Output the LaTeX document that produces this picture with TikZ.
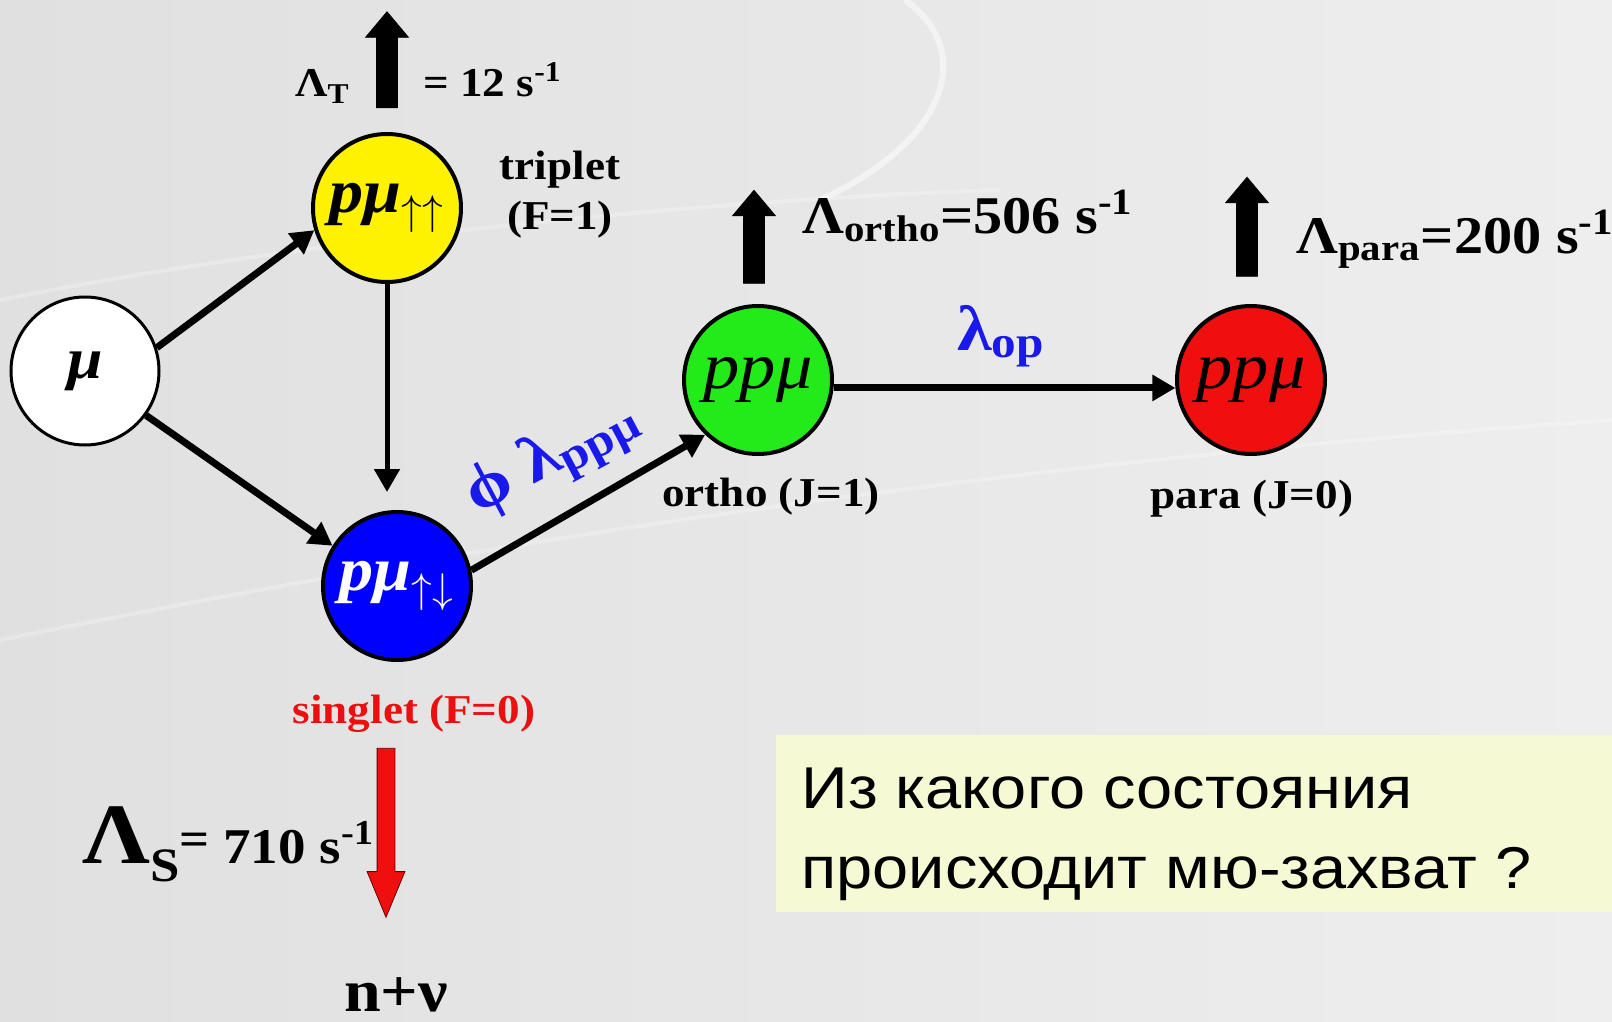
\documentclass[tikz,border=0pt]{standalone}
\usepackage{fontspec}
\setmainfont{Liberation Serif}[FakeStretch=1.1]
\newfontfamily\rusfont{Liberation Sans}[FakeStretch=1.1]
\usetikzlibrary{arrows.meta,shapes.arrows}

\definecolor{bgleft}{RGB}{224,224,224}
\definecolor{bgright}{RGB}{238,238,238}
\definecolor{qbox}{RGB}{245,250,212}
\definecolor{lblue}{RGB}{25,25,235}
\definecolor{lred}{RGB}{235,15,15}
\definecolor{ogreen}{RGB}{35,235,25}
\definecolor{pred}{RGB}{240,15,15}

\tikzset{
	state/.style={circle, draw, line width=2pt, minimum size=74pt, inner sep=0pt},
	trans/.style={line width=3.5pt, -{Triangle[length=11.5pt,width=12.5pt]}},
	decay/.style={single arrow, draw, fill=black, inner sep=5pt, minimum height=48pt,
		single arrow head extend=5.5pt, single arrow tip angle=80, single arrow head indent=0pt},
	lbl/.style={inner sep=0pt, font=\fontsize{20.5}{25}\selectfont\bfseries},
	big/.style={inner sep=0pt, font=\fontsize{26.5}{32}\selectfont\bfseries},
	ques/.style={anchor=base west, inner sep=0pt, font=\rusfont\fontsize{29.5}{40}\selectfont}
}

\begin{document}
\begin{tikzpicture}[x=0.5pt,y=-0.5pt]
		\useasboundingbox (0,0) rectangle (1612,1022);
		\shade[left color=bgleft, right color=bgright] (0,0) rectangle (1612,1022);
		\draw[white, opacity=0.5, line width=3pt] (905,0) .. controls (975,50) and (950,140) .. (820,200);
		\draw[white, opacity=0.25, line width=2pt] (0,300) .. controls (300,240) and (700,200) .. (1000,190);
		\draw[white, opacity=0.25, line width=2pt] (0,640) .. controls (400,560) and (900,470) .. (1612,420);
		\fill[qbox] (776,735) rectangle (1612,912);
		
		\node[state, fill=white, line width=1.5pt] (mu) at (85,371) {\fontsize{29}{29}\selectfont\bfseries\itshape μ};
		\node[state, fill=yellow] (ptrip) at (387,208) {\fontsize{31}{31}\selectfont\bfseries\itshape pμ$_{\uparrow\uparrow}$};
		\node[state, fill=blue, text=white] (psing) at (397,586) {\fontsize{31}{31}\selectfont\bfseries\itshape pμ$_{\uparrow\downarrow}$};
		\node[state, fill=ogreen] (ortho) at (758,380) {\fontsize{33}{33}\selectfont\itshape ppμ};
		\node[state, fill=pred] (para) at (1251,380) {\fontsize{33}{33}\selectfont\itshape ppμ};
		
		\draw[trans] (mu.18) to (ptrip.197);
		\draw[trans] (mu.-36) to (psing.148);
		\draw[trans, line width=2.5pt, shorten >=9pt] (ptrip.south) to (ptrip.south |- psing.north);
		\draw[trans] (psing.12) to (ortho.226);
		\draw[trans] (ortho.-6) to (para.186);
		
		\node[decay, rotate=90] (decT) at (387,66) {};
		\node[decay, rotate=90, minimum height=46.5pt] (decO) at (754,243) {};
		\node[decay, rotate=90, minimum height=49.5pt] (decP) at (1247,233) {};
		\node[decay, rotate=-90, fill=pred, draw=red!40!black, inner sep=4.25pt, minimum height=84.5pt,
			single arrow head extend=5pt, single arrow tip angle=45] (decS) at (386,822) {};
		
		\node[lbl, anchor=base west] (lamT) at (295,97) {Λ\textsubscript{T}};
		\node[lbl, anchor=base west] (valT) at (423,97) {= 12 s\textsuperscript{-1}};
		\node[lbl, align=center] (trip) at (560,195) {triplet\\(F=1)};
		\node[big, anchor=base west] (lamO) at (802,233) {Λ\textsubscript{ortho}=506 s\textsuperscript{-1}};
		\node[big, anchor=base west] (lamP) at (1296,253) {Λ\textsubscript{para}=200 s\textsuperscript{-1}};
		\node[big, text=lblue, anchor=base west, font=\fontsize{32}{32}\selectfont\bfseries] (lamop) at (957,350) {λ\textsubscript{op}};
		\node[big, text=lblue, rotate=28, font=\fontsize{33}{33}\selectfont\bfseries] (lamppm) at (553,458) {ϕ λ\textsubscript{ppμ}};
		\node[lbl] (ortJ) at (771,497) {ortho (J=1)};
		\node[lbl] (parJ) at (1252,499) {para (J=0)};
		\node[lbl, text=lred, anchor=base] (singF) at (414,723) {singlet (F=0)};
		\node[anchor=base west, font=\bfseries, inner sep=0pt] (lamS) at (82,863)
			{\fontsize{43}{43}\selectfont Λ\raisebox{-9pt}{\fontsize{24}{24}\selectfont S}\raisebox{4pt}{\fontsize{24}{24}\selectfont =}\fontsize{25}{25}\selectfont\ 710 s\textsuperscript{-1}};
		\node[anchor=base, inner sep=0pt, font=\fontsize{30}{30}\selectfont\bfseries] (nnu) at (396,1011) {n+ν};
		
		\node[ques] (ques1) at (801,808) {Из какого состояния};
		\node[ques] (ques2) at (801,888) {происходит мю-захват ?};
\end{tikzpicture}
\end{document}
